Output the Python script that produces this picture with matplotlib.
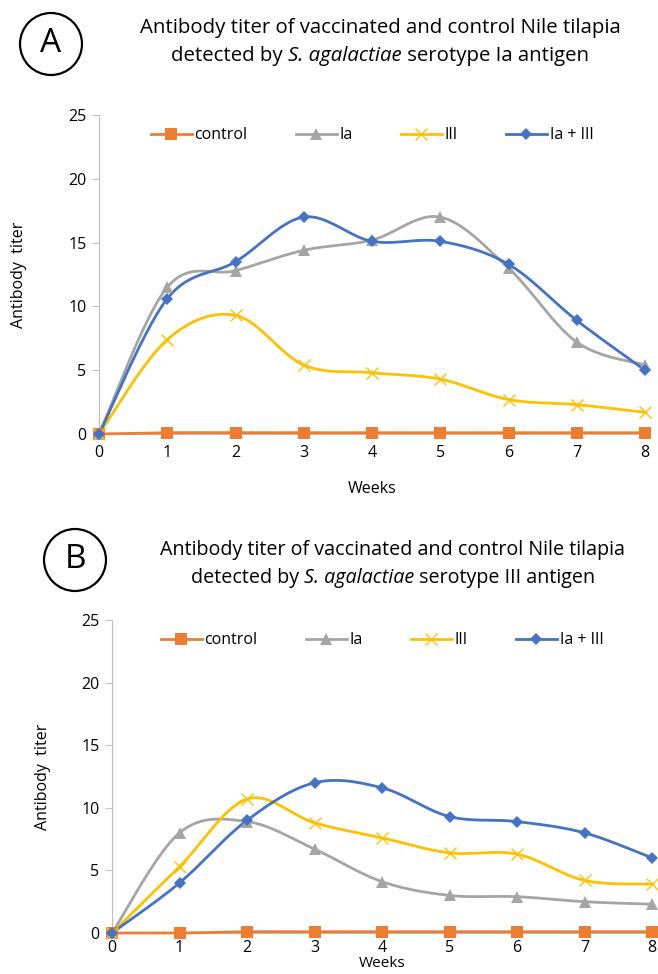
import matplotlib
matplotlib.use("Agg")
import matplotlib.pyplot as plt
import numpy as np
from matplotlib.patches import Ellipse

plt.rcParams["font.family"] = ["Open Sans", "DejaVu Sans"]

weeks = [0, 1, 2, 3, 4, 5, 6, 7, 8]
series_names = ["control", "Ia", "III", "Ia + III"]

# panel A: serotype Ia antigen
a_control = [0, 0.1, 0.1, 0.1, 0.1, 0.1, 0.1, 0.1, 0.1]
a_ia = [0, 11.5, 12.8, 14.4, 15.2, 17.0, 13.0, 7.2, 5.4]
a_iii = [0, 7.4, 9.3, 5.4, 4.8, 4.3, 2.7, 2.3, 1.7]
a_mix = [0, 10.6, 13.5, 17.0, 15.1, 15.1, 13.3, 8.9, 5.0]

# panel B: serotype III antigen
b_control = [0, 0, 0.1, 0.1, 0.1, 0.1, 0.1, 0.1, 0.1]
b_ia = [0, 8.0, 8.9, 6.7, 4.1, 3.0, 2.9, 2.5, 2.3]
b_iii = [0, 5.3, 10.7, 8.8, 7.6, 6.4, 6.3, 4.2, 3.9]
b_mix = [0, 4.0, 9.0, 12.0, 11.6, 9.3, 8.9, 8.0, 6.0]

COLORS = ["#ED7D31", "#A5A5A5", "#FFC000", "#4472C4"]
MARKERS = [("s", 8.5, 0), ("^", 9, 0), ("x", 9, 1.0), ("D", 6.5, 0)]

W, H = 658, 974


def smooth(x, y, n=30):
    """Excel-style smoothed line: Catmull-Rom segments as cubic Beziers."""
    pts = np.column_stack([np.asarray(x, float), np.asarray(y, float)])
    out = []
    t = np.linspace(0, 1, n)[:, None]
    for i in range(len(pts) - 1):
        p0 = pts[max(i - 1, 0)]
        p1 = pts[i]
        p2 = pts[i + 1]
        p3 = pts[min(i + 2, len(pts) - 1)]
        c1 = p1 + (p2 - p0) / 6
        c2 = p2 - (p3 - p1) / 6
        seg = ((1 - t) ** 3) * p1 + 3 * ((1 - t) ** 2) * t * c1 \
            + 3 * (1 - t) * t ** 2 * c2 + t ** 3 * p2
        out.append(seg if i == 0 else seg[1:])
    curve = np.vstack(out)
    return curve[:, 0], curve[:, 1]


def draw_panel(ax, data, legend_y, xpad=8):
    handles = []
    for vals, name, color, (mk, ms, mew) in zip(data, series_names, COLORS, MARKERS):
        sx, sy = smooth(weeks, vals)
        ax.plot(sx, sy, color=color, lw=2.0, clip_on=False, zorder=3)
        ax.plot(weeks, vals, ls="none", marker=mk, ms=ms, mew=mew,
                color=color, mec=color, clip_on=False, zorder=4)
        h, = ax.plot([], [], color=color, lw=2.0, marker=mk, ms=ms, mew=mew, mec=color)
        handles.append(h)

    ax.set_xlim(0, 8)
    ax.set_ylim(0, 25)
    ax.set_xticks(weeks)
    ax.set_yticks(range(0, 26, 5))
    for side in ("top", "right"):
        ax.spines[side].set_visible(False)
    ax.spines["left"].set_color("#BFBFBF")
    ax.spines["bottom"].set_color("#BFBFBF")
    ax.tick_params(axis="y", length=5, color="#BFBFBF", labelsize=11.5, pad=4)
    ax.tick_params(axis="x", length=0, labelsize=11.5, pad=xpad)

    ax.legend(handles, series_names, loc="center", bbox_to_anchor=(0.5, legend_y),
              ncol=4, frameon=False, fontsize=11.5, handlelength=2.6,
              handletextpad=0.15, columnspacing=3.0)


def title_line(fig, renderer, x_center, y_px, parts, size):
    """Centre a line made of (text, style) pieces at x_center (pixels)."""
    texts = [fig.text(0, 0, s, fontsize=size, fontstyle=st, va="center")
             for s, st in parts]
    widths = [t.get_window_extent(renderer).width for t in texts]
    x = x_center - sum(widths) / 2
    for t, w in zip(texts, widths):
        t.set_position((x / W, 1 - y_px / H))
        x += w


fig = plt.figure(figsize=(W / 100, H / 100), dpi=100)
renderer = fig.canvas.get_renderer()

ax_a = fig.add_axes([99 / W, 1 - 434 / H, 546 / W, 319 / H])
draw_panel(ax_a, [a_control, a_ia, a_iii, a_mix], 0.937)
ax_a.set_xlabel("Weeks", fontsize=11.5, labelpad=14)
ax_a.set_ylabel("Antibody  titer", fontsize=11.5, labelpad=30)

ax_b = fig.add_axes([112 / W, 1 - 933 / H, 540 / W, 313 / H])
draw_panel(ax_b, [b_control, b_ia, b_iii, b_mix], 0.935, xpad=5)
ax_b.set_xlabel("Weeks", fontsize=11, labelpad=0)
ax_b.set_ylabel("Antibody  titer", fontsize=11.5, labelpad=22)

# panel titles and circled letters
head = "Antibody titer of vaccinated and control Nile tilapia"
title_line(fig, renderer, 380, 28, [(head, "normal")], 14.7)
title_line(fig, renderer, 380, 56, [("detected by ", "normal"), ("S. agalactiae", "italic"),
                                    (" serotype Ia antigen", "normal")], 14.7)
title_line(fig, renderer, 393, 550, [(head, "normal")], 14.2)
title_line(fig, renderer, 393, 578, [("detected by ", "normal"), ("S. agalactiae", "italic"),
                                     (" serotype III antigen", "normal")], 14.2)

for cx, cy, letter in [(51, 44, "A"), (75, 560, "B")]:
    fig.patches.append(Ellipse((cx / W, 1 - cy / H), 62 / W, 62 / H,
                               transform=fig.transFigure, fill=False,
                               ec="black", lw=1.6))
    fig.text(cx / W, 1 - cy / H, letter, ha="center", va="center",
             fontsize=24)

fig.savefig("out.png", dpi=100)
